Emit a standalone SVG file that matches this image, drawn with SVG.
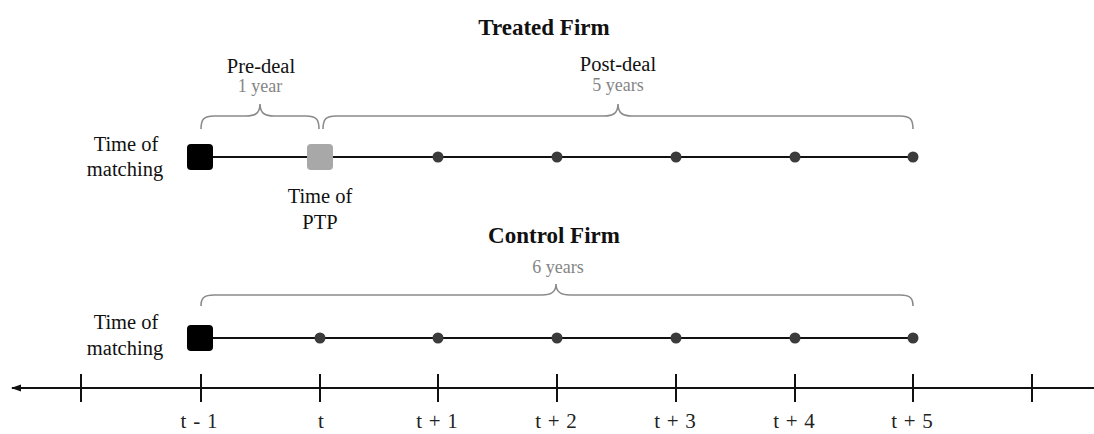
<svg xmlns="http://www.w3.org/2000/svg" width="1094" height="434" viewBox="0 0 1094 434">
  <defs>
    <style>
      text { font-family: "Liberation Serif", "Times New Roman", serif; fill: #111; text-anchor: middle; }
      .title { font-size: 23px; font-weight: bold; }
      .lbl { font-size: 20.5px; }
      .dur { font-size: 18px; fill: #858585; }
      .tick-lbl { font-size: 21px; fill: #222; word-spacing: 1.5px; }
      .brace { fill: none; stroke: #8a8a8a; stroke-width: 1.6; }
      .line { stroke: #111; stroke-width: 2; fill: none; }
      .dot { fill: #3b3b3b; }
      .sq-black { fill: #000; }
      .sq-gray { fill: #a8a8a8; }
    </style>
    <marker id="arrowL" markerWidth="10" markerHeight="8" refX="9" refY="4" orient="auto" markerUnits="userSpaceOnUse">
      <path d="M0,0.5 L10,4 L0,7.5 Z" fill="#111"/>
    </marker>
  </defs>
  <rect width="1094" height="434" fill="#fff"/>

  <text class="title" x="544" y="35">Treated Firm</text>
  <text class="title" x="554" y="243">Control Firm</text>

  <g id="connectors">
    <line class="line" x1="200" y1="157" x2="913" y2="157"/>
    <line class="line" x1="200" y1="338" x2="913" y2="338"/>
    <line class="line" x1="1094" y1="388" x2="12" y2="388" marker-end="url(#arrowL)"/>
  </g>

  <g id="braces">
    <path class="brace" d="M201,129 C201,119 204,116 214,116 L246,116 C254,116 260,114 260,104 C260,114 266,116 274,116 L306,116 C316,116 319,119 319,129"/>
    <path class="brace" d="M323,129 C323,119 326,116 336,116 L604,116 C612,116 618,114 618,104 C618,114 624,116 632,116 L900,116 C910,116 913,119 913,129"/>
    <path class="brace" d="M201,306 C201,298 204,295 214,295 L542,295 C550,295 556,293 556,284 C556,293 562,295 570,295 L900,295 C910,295 913,298 913,306"/>
  </g>

  <g id="axis-ticks">
    <line class="line" x1="81" y1="374" x2="81" y2="402"/>
    <line class="line" x1="201" y1="374" x2="201" y2="402"/>
    <line class="line" x1="320" y1="374" x2="320" y2="402"/>
    <line class="line" x1="438" y1="374" x2="438" y2="402"/>
    <line class="line" x1="557" y1="374" x2="557" y2="402"/>
    <line class="line" x1="676" y1="374" x2="676" y2="402"/>
    <line class="line" x1="795" y1="374" x2="795" y2="402"/>
    <line class="line" x1="913" y1="374" x2="913" y2="402"/>
    <line class="line" x1="1032" y1="374" x2="1032" y2="402"/>
  </g>

  <g id="tick-labels">
    <text class="tick-lbl" x="199" y="428">t - 1</text>
    <text class="tick-lbl" x="321" y="428">t</text>
    <text class="tick-lbl" x="437" y="428">t + 1</text>
    <text class="tick-lbl" x="556" y="428">t + 2</text>
    <text class="tick-lbl" x="675" y="428">t + 3</text>
    <text class="tick-lbl" x="794" y="428">t + 4</text>
    <text class="tick-lbl" x="912" y="428">t + 5</text>
  </g>

  <g id="treated-start">
    <rect class="sq-black" x="187" y="144" width="26" height="26" rx="4"/>
    <text class="lbl" x="126" y="151">Time of</text>
    <text class="lbl" x="125" y="176">matching</text>
  </g>
  <g id="treated-ptp">
    <rect class="sq-gray" x="307" y="144" width="26" height="26" rx="4"/>
    <text class="lbl" x="320" y="203">Time of</text>
    <text class="lbl" x="320" y="229">PTP</text>
  </g>
  <g id="treated-dots">
    <circle class="dot" cx="438" cy="157" r="5.5"/>
    <circle class="dot" cx="557" cy="157" r="5.5"/>
    <circle class="dot" cx="676" cy="157" r="5.5"/>
    <circle class="dot" cx="795" cy="157" r="5.5"/>
    <circle class="dot" cx="913" cy="157" r="5.5"/>
  </g>
  <g id="pre-deal-label">
    <text class="lbl" x="261" y="73">Pre-deal</text>
    <text class="dur" x="260" y="92">1 year</text>
  </g>
  <g id="post-deal-label">
    <text class="lbl" x="618" y="71">Post-deal</text>
    <text class="dur" x="618" y="91">5 years</text>
  </g>

  <g id="control-start">
    <rect class="sq-black" x="187" y="325" width="26" height="26" rx="4"/>
    <text class="lbl" x="126" y="329">Time of</text>
    <text class="lbl" x="125" y="355">matching</text>
  </g>
  <g id="control-dots">
    <circle class="dot" cx="320" cy="338" r="5.5"/>
    <circle class="dot" cx="438" cy="338" r="5.5"/>
    <circle class="dot" cx="557" cy="338" r="5.5"/>
    <circle class="dot" cx="676" cy="338" r="5.5"/>
    <circle class="dot" cx="795" cy="338" r="5.5"/>
    <circle class="dot" cx="913" cy="338" r="5.5"/>
  </g>
  <g id="control-duration">
    <text class="dur" x="558" y="273">6 years</text>
  </g>
</svg>
